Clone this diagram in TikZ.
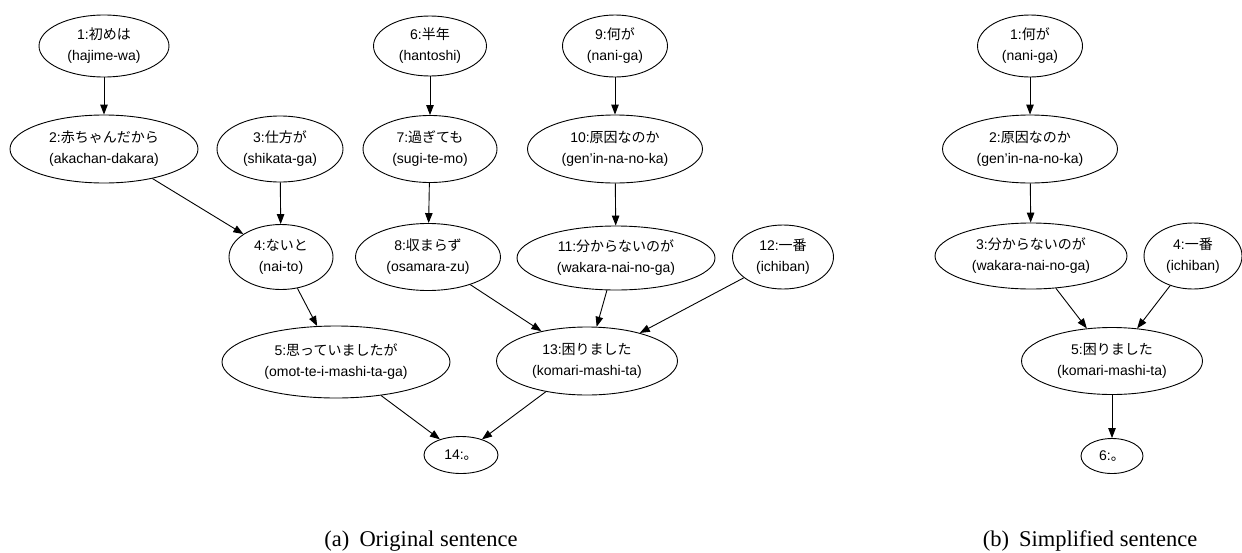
\documentclass[tikz,border=0pt]{standalone}
\usepackage{fontspec}
\setmainfont{Liberation Serif}
\setsansfont{Liberation Sans}
\newfontfamily\jp{Noto Sans CJK JP}
\usetikzlibrary{shapes.geometric,arrows.meta}
\newcommand{\sq}{{\char"27}}
\begin{document}
\begin{tikzpicture}[x=1pt,y=-1pt,
  wnode/.style={ellipse,draw,line width=0.9pt,inner sep=0pt,align=center,
    font=\sffamily\fontsize{14}{21}\selectfont},
  dep/.style={line width=0.9pt,-{Triangle[length=10pt,width=7.5pt]}},
  capt/.style={font=\rmfamily\fontsize{22.5}{26}\selectfont,anchor=base}]
\useasboundingbox (0,0) rectangle (1242,552);
% ---- (a) original sentence ----
\node[wnode,minimum width=130pt,minimum height=62pt] (a1) at (104,46) {1:{\jp 初めは}\\(hajime-wa)};
\node[wnode,minimum width=188pt,minimum height=68pt] (a2) at (104,149) {2:{\jp 赤ちゃんだから}\\(akachan-dakara)};
\node[wnode,minimum width=126pt,minimum height=66pt] (a3) at (280,149) {3:{\jp 仕方が}\\(shikata-ga)};
\node[wnode,minimum width=104pt,minimum height=65pt] (a4) at (281,257) {4:{\jp ないと}\\(nai-to)};
\node[wnode,minimum width=228pt,minimum height=72pt] (a5) at (336,362) {5:{\jp 思っていましたが}\\(omot-te-i-mashi-ta-ga)};
\node[wnode,minimum width=113pt,minimum height=60pt] (a6) at (430,46) {6:{\jp 半年}\\(hantoshi)};
\node[wnode,minimum width=134pt,minimum height=67pt] (a7) at (430,149) {7:{\jp 過ぎても}\\(sugi-te-mo)};
\node[wnode,minimum width=145pt,minimum height=67pt] (a8) at (428,257) {8:{\jp 収まらず}\\(osamara-zu)};
\node[wnode,minimum width=105pt,minimum height=62pt] (a9) at (615,46) {9:{\jp 何が}\\(nani-ga)};
\node[wnode,minimum width=175pt,minimum height=68pt] (a10) at (615,149) {10:{\jp 原因なのか}\\(gen\sq in-na-no-ka)};
\node[wnode,minimum width=198pt,minimum height=64pt] (a11) at (616,258) {11:{\jp 分からないのが}\\(wakara-nai-no-ga)};
\node[wnode,minimum width=101pt,minimum height=64pt] (a12) at (783,257) {12:{\jp 一番}\\(ichiban)};
\node[wnode,minimum width=181pt,minimum height=68pt] (a13) at (587,361) {13:{\jp 困りました}\\(komari-mashi-ta)};
\node[wnode,minimum width=74pt,minimum height=37pt] (a14) at (461,455) {14:{\jp 。}};
\draw[dep] (a1) -- (a2);
\draw[dep] (a2) -- (a4);
\draw[dep] (a3) -- (a4);
\draw[dep] (a4) -- (a5);
\draw[dep] (a5) -- (a14);
\draw[dep] (a6) -- (a7);
\draw[dep] (a7) -- (a8);
\draw[dep] (a8) -- (a13);
\draw[dep] (a9) -- (a10);
\draw[dep] (a10) -- (a11);
\draw[dep] (a11) -- (a13);
\draw[dep] (a12) -- (a13);
\draw[dep] (a13) -- (a14);
% ---- (b) simplified sentence ----
\node[wnode,minimum width=105pt,minimum height=62pt] (b1) at (1030,46) {1:{\jp 何が}\\(nani-ga)};
\node[wnode,minimum width=175pt,minimum height=68pt] (b2) at (1030,149) {2:{\jp 原因なのか}\\(gen\sq in-na-no-ka)};
\node[wnode,minimum width=192pt,minimum height=66pt] (b3) at (1031,256) {3:{\jp 分からないのが}\\(wakara-nai-no-ga)};
\node[wnode,minimum width=98pt,minimum height=66pt] (b4) at (1193,256) {4:{\jp 一番}\\(ichiban)};
\node[wnode,minimum width=181pt,minimum height=67pt] (b5) at (1112,361) {5:{\jp 困りました}\\(komari-mashi-ta)};
\node[wnode,minimum width=62pt,minimum height=35pt] (b6) at (1112,456) {6:{\jp 。}};
\draw[dep] (b1) -- (b2);
\draw[dep] (b2) -- (b3);
\draw[dep] (b3) -- (b5);
\draw[dep] (b4) -- (b5);
\draw[dep] (b5) -- (b6);
% ---- captions ----
\node[capt] (capa) at (421,546) {(a)\hspace{0.45em}Original sentence};
\node[capt] (capb) at (1090,546) {(b)\hspace{0.45em}Simplified sentence};
\end{tikzpicture}
\end{document}
